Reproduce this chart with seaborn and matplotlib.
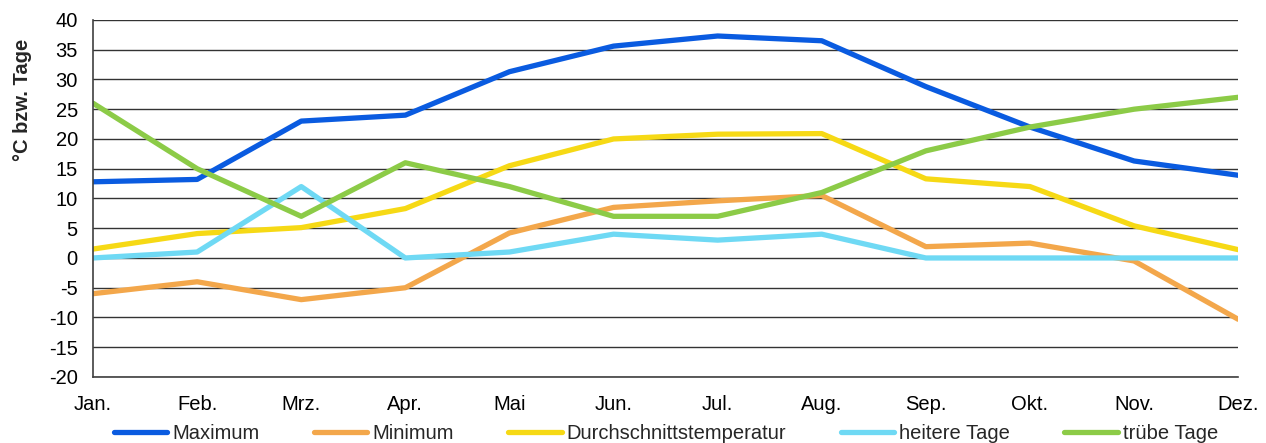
import pandas as pd
import matplotlib
matplotlib.use("Agg")
import matplotlib.pyplot as plt
import seaborn as sns

# ================== Daten ==================
MONATE = ["Jan.", "Feb.", "Mrz.", "Apr.", "Mai", "Jun.", "Jul.", "Aug.",
          "Sep.", "Okt.", "Nov.", "Dez."]
MAXIMUM = [12.8, 13.2, 23.0, 24.0, 31.3, 35.6, 37.3, 36.5, 28.8, 22.0, 16.3, 13.9]
MINIMUM = [-6.0, -4.0, -7.0, -5.0, 4.2, 8.5, 9.6, 10.5, 1.9, 2.5, -0.5, -10.3]
DURCHSCHNITT = [1.5, 4.1, 5.1, 8.3, 15.5, 20.0, 20.8, 20.9, 13.3, 12.0, 5.4, 1.4]
HEITERE = [0, 1, 12, 0, 1, 4, 3, 4, 0, 0, 0, 0]
TRUEBE = [26, 15, 7, 16, 12, 7, 7, 11, 18, 22, 25, 27]
Y_TICKS = list(range(-20, 41, 5))
# ==========================================

SERIEN = {
    "Maximum": MAXIMUM,
    "Minimum": MINIMUM,
    "Durchschnittstemperatur": DURCHSCHNITT,
    "heitere Tage": HEITERE,
    "trübe Tage": TRUEBE,
}
FARBEN = ["#0A5BE0", "#F3A74B", "#F6D915", "#6FD9F4", "#8CCB47"]


def main():
    rows = []
    for name, werte in SERIEN.items():
        for i, v in enumerate(werte):
            rows.append({"idx": i, "Monat": MONATE[i], "Wert": v, "Serie": name})
    df = pd.DataFrame(rows)

    sns.set_theme(style="white")
    plt.rcParams["font.family"] = ["Liberation Sans", "DejaVu Sans"]
    plt.rcParams["axes.unicode_minus"] = False

    fig = plt.figure(figsize=(12.66, 4.43), dpi=100)
    ax = fig.add_axes([0.0735, 0.149, 0.9045, 0.806])

    sns.lineplot(data=df, x="idx", y="Wert", hue="Serie",
                 hue_order=list(SERIEN.keys()), palette=FARBEN,
                 linewidth=3.8, ax=ax, legend=True)

    ax.set_xlim(0, len(MONATE) - 1)
    ax.set_ylim(-20, 40)
    ax.set_xticks(range(len(MONATE)))
    ax.set_xticklabels(MONATE)
    ax.set_yticks(Y_TICKS)
    ax.set_xlabel("")
    ax.set_ylabel("°C bzw. Tage", fontsize=14.5, fontweight="bold")
    ax.yaxis.set_label_coords(-0.053, 0.776)
    ax.tick_params(axis="both", labelsize=14.5, length=5, width=1,
                   color="#404040", labelcolor="black", direction="out")
    ax.tick_params(axis="x", pad=8)
    ax.tick_params(axis="y", pad=6)
    ax.yaxis.grid(True, color="#333333", linewidth=1)
    ax.set_axisbelow(True)
    for s in ["top", "right"]:
        ax.spines[s].set_visible(False)
    for s in ["left", "bottom"]:
        ax.spines[s].set_color("#404040")
        ax.spines[s].set_linewidth(1.2)

    handles, labels = ax.get_legend_handles_labels()
    ax.get_legend().remove()
    fig.legend(handles, labels, loc="center", bbox_to_anchor=(0.526, 0.022),
               ncol=5, frameon=False, fontsize=14.5, handlelength=2.65,
               handletextpad=0.25, columnspacing=2.7)

    fig.savefig("out.png", dpi=100)


if __name__ == "__main__":
    main()
